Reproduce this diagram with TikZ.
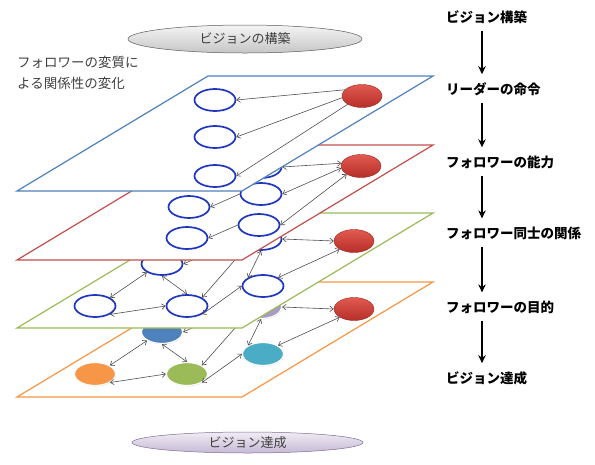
\documentclass[tikz,border=0pt]{standalone}
\usepackage{fontspec}
\setmainfont{Noto Sans CJK JP}
\usetikzlibrary{shapes.geometric,arrows.meta,shadows}
\definecolor{pblue}{HTML}{4F81BD}
\definecolor{pred}{HTML}{C0504D}
\definecolor{pgreen}{HTML}{9BBB59}
\definecolor{porange}{HTML}{F79646}
\definecolor{folblue}{RGB}{30,55,190}
\definecolor{leadtop}{HTML}{E25A50}
\definecolor{leadbot}{HTML}{B52E28}
\definecolor{leadborder}{HTML}{9E2A24}
\definecolor{linkgray}{HTML}{505050}
\definecolor{cSteel}{HTML}{4F81BD}
\definecolor{cPurple}{HTML}{8064A2}
\definecolor{cLav}{HTML}{A99BC4}
\definecolor{cOrange}{HTML}{F79646}
\definecolor{cGreen}{HTML}{9BBB59}
\definecolor{cTeal}{HTML}{4BACC6}
\definecolor{txtgray}{HTML}{404040}
\tikzset{
  plane/.style={fill=white, line width=1.2pt},
  fol/.style={ellipse, draw=folblue, line width=1.7pt, fill=white, minimum width=41pt, minimum height=22pt, inner sep=0pt},
  lead/.style={ellipse, draw=leadborder, line width=0.4pt, top color=leadtop, bottom color=leadbot, minimum width=40pt, minimum height=23pt, inner sep=0pt},
  dot/.style={ellipse, draw=white, line width=1.2pt, minimum width=41pt, minimum height=23pt, inner sep=0pt, drop shadow={shadow xshift=0.5pt, shadow yshift=-0.8pt, opacity=0.35}},
  link/.style={draw=linkgray, line width=0.6pt, {Straight Barb[length=3.5pt,width=5.5pt]}-{Straight Barb[length=3.5pt,width=5.5pt]}},
  one/.style={draw=linkgray, line width=0.6pt, -{Straight Barb[length=3.5pt,width=5.5pt]}},
  flow/.style={line width=1.6pt, -{Stealth[length=8pt,width=7.5pt]}, shorten <=7pt, shorten >=8pt},
  steplabel/.style={anchor=west, inner sep=0pt, font=\fontsize{13.5}{16}\selectfont\bfseries},
  oval/.style={ellipse, inner sep=0pt, text=txtgray, font=\fontsize{13}{15}\selectfont},
}
\begin{document}
\begin{tikzpicture}[x=1pt,y=-1pt]
\useasboundingbox (0,0) rectangle (595,464);

% ---------- orange plane ----------
\draw[plane, draw=porange] (17,397) -- (242,397) -- (433,282) -- (208,282) -- cycle;
\node[dot, fill=cSteel]  (oT)  at (162,332) {};
\node[dot, fill=cLav]    (oTR) at (261,307) {};
\node[dot, fill=cOrange] (oL)  at (95,374) {};
\node[dot, fill=cGreen]  (oC)  at (187,374) {};
\node[dot, fill=cTeal]   (oR)  at (263,354) {};
\node[lead] (oRL) at (354,309) {};
\draw[link] (oL.south east) -- (oC.west);
\draw[link] (oL.north east) -- (oT.south west);
\draw[link] (oT.south) -- (oC.north);
\draw[link] (oC.north east) -- (oTR.south west);
\draw[link] (oC.south east) -- (oR.west);
\draw[link] (oR.north west) -- (oTR.south);
\draw[link] (oTR.east) -- (oRL.west);
\draw[link] (oRL.south west) -- (oR.north east);
\draw[link] (oT.east) -- (oTR.west);

% ---------- green plane ----------
\draw[plane, draw=pgreen] (17,328) -- (242,328) -- (433,213) -- (208,213) -- cycle;
\node[fol] (gT)  at (162,264) {};
\node[fol] (gTR) at (261,239) {};
\node[fol] (gL)  at (95,306) {};
\node[fol] (gC)  at (187,306) {};
\node[fol] (gR)  at (263,286) {};
\node[lead] (gRL) at (354,241) {};
\draw[link] (gL.south east) -- (gC.west);
\draw[link] (gL.north east) -- (gT.south west);
\draw[link] (gT.south) -- (gC.north);
\draw[link] (gC.north east) -- (gTR.south west);
\draw[link] (gC.south east) -- (gR.west);
\draw[link] (gR.north west) -- (gTR.south);
\draw[link] (gTR.east) -- (gRL.west);
\draw[link] (gRL.south west) -- (gR.north east);
\draw[link] (gT.east) -- (gTR.west);

% ---------- red plane ----------
\draw[plane, draw=pred] (17,260) -- (242,260) -- (433,145) -- (208,145) -- cycle;
\node[fol] (rP)  at (261,167) {};
\node[fol] (rM1) at (261,194) {};
\node[fol] (rM2) at (259,225) {};
\node[fol] (rF1) at (189,207) {};
\node[fol] (rF2) at (187,238) {};
\node[lead] (rRL) at (361,166) {};
\draw[link] (rP.east) -- (rRL.172);
\draw[link] (rM1.east) -- (rRL.186);
\draw[link] (rM2.east) -- (rRL.south west);
\draw[one] (rM1.west) -- (rF1.east);
\draw[one] (rM2.west) -- (rF2.east);

% ---------- blue plane ----------
\draw[plane, draw=pblue] (17,191) -- (242,191) -- (433,76) -- (208,76) -- cycle;
\node[fol] (bF1) at (215,100) {};
\node[fol] (bF2) at (215,137) {};
\node[fol] (bF3) at (215,176) {};
\node[lead] (bRL) at (362,96) {};
\draw[one] (bRL.160) -- (bF1.east);
\draw[one] (bRL.185) -- (bF2.east);
\draw[one] (bRL.south west) -- (bF3.east);

% ---------- ovals ----------
\node[oval, draw=black!65, line width=0.5pt, top color=gray!8, bottom color=gray!45,
      minimum width=234pt, minimum height=28pt] (top) at (245,39) {ビジョンの構築};
\node[oval, draw=cPurple!70!gray, line width=0.5pt, top color=cPurple!12, bottom color=cPurple!45,
      minimum width=231pt, minimum height=21pt] (bottom) at (247.5,442.5) {ビジョン達成};

% ---------- left caption ----------
\node[anchor=west, align=left, inner sep=0pt, text=txtgray,
      font=\fontsize{13.5}{21}\selectfont] (cap) at (17,72.5) {フォロワーの変質に\\よる関係性の変化};

% ---------- right column ----------
\coordinate (ax) at (482,0);
\node[steplabel] (s1) at (446,17)  {ビジョン構築};
\node[steplabel] (s2) at (446,89)  {リーダーの命令};
\node[steplabel] (s3) at (446,162) {フォロワーの能力};
\node[steplabel] (s4) at (446,233) {フォロワー同士の関係};
\node[steplabel] (s5) at (446,307) {フォロワーの目的};
\node[steplabel] (s6) at (446,378) {ビジョン達成};
\draw[flow] (s1.south -| ax) -- (s2.north -| ax);
\draw[flow] (s2.south -| ax) -- (s3.north -| ax);
\draw[flow] (s3.south -| ax) -- (s4.north -| ax);
\draw[flow] (s4.south -| ax) -- (s5.north -| ax);
\draw[flow] (s5.south -| ax) -- (s6.north -| ax);
\end{tikzpicture}
\end{document}
